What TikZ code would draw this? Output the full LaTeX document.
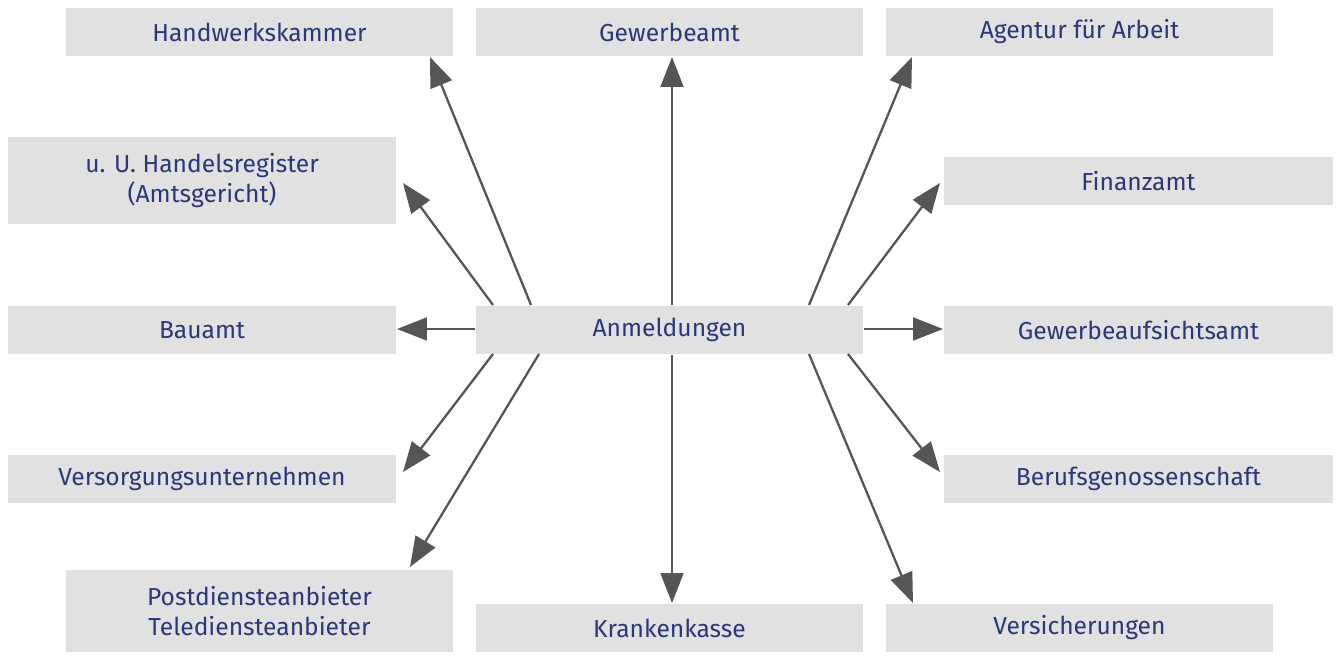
\documentclass[tikz,border=0pt]{standalone}
\usepackage{fontspec}
\setmainfont{Fira Sans}
\usetikzlibrary{arrows.meta}
\definecolor{boxgray}{HTML}{E1E1E1}
\definecolor{txtblue}{HTML}{2B3878}
\definecolor{arr}{HTML}{555555}
\begin{document}
\begin{tikzpicture}[x=0.02cm,y=-0.02cm,
 box/.style={fill=boxgray,draw=none,inner sep=0pt,text=txtblue,align=center,font=\fontsize{14}{17}\selectfont},
 con/.style={draw=arr,line width=1.3pt,-{Triangle[length=17pt,width=13pt]}}]
\useasboundingbox (0,0) rectangle (1336,656);
\newcommand\bx[6]{\node[box,minimum width={(#4-#2)*0.02cm},minimum height={(#5-#3)*0.02cm}] (#1) at ({(#2+#4)/2},{(#3+#5)/2}) {#6};}
\bx{hwk}{66}{8}{453}{56}{Handwerkskammer}
\bx{gew}{476}{8}{863}{56}{Gewerbeamt}
\bx{aga}{886}{8}{1273}{56}{Agentur für Arbeit}
\bx{hr}{8}{137}{396}{224}{u. U. Handelsregister\\(Amtsgericht)}
\bx{fin}{944}{157}{1333}{205}{Finanzamt}
\bx{bau}{8}{306}{396}{354}{Bauamt}
\bx{anm}{476}{306}{863}{354}{Anmeldungen}
\bx{gaa}{944}{306}{1333}{354}{Gewerbeaufsichtsamt}
\bx{ver}{8}{455}{396}{503}{Versorgungsunternehmen}
\bx{bg}{944}{455}{1333}{503}{Berufsgenossenschaft}
\bx{post}{66}{570}{453}{652}{Postdiensteanbieter\\Telediensteanbieter}
\bx{kk}{476}{604}{863}{652}{Krankenkasse}
\bx{vs}{886}{604}{1273}{652}{Versicherungen}
\foreach \n/\a/\b/\c/\d in {hwk/531/305/430/57, hr/493/305/403/183, bau/475/329/397/329, ver/493/354/403/472, post/539/354/410/567, gew/672/305/672/57, kk/672/355/672/603, aga/809/305/912/57, fin/848/305/940/183, gaa/864/329/943/329, bg/848/354/940/472, vs/809/354/913/603}
 {\coordinate (s\n) at (\a,\b); \coordinate (e\n) at (\c,\d); \draw[con] (s\n) -- (e\n);}
\end{tikzpicture}
\end{document}
